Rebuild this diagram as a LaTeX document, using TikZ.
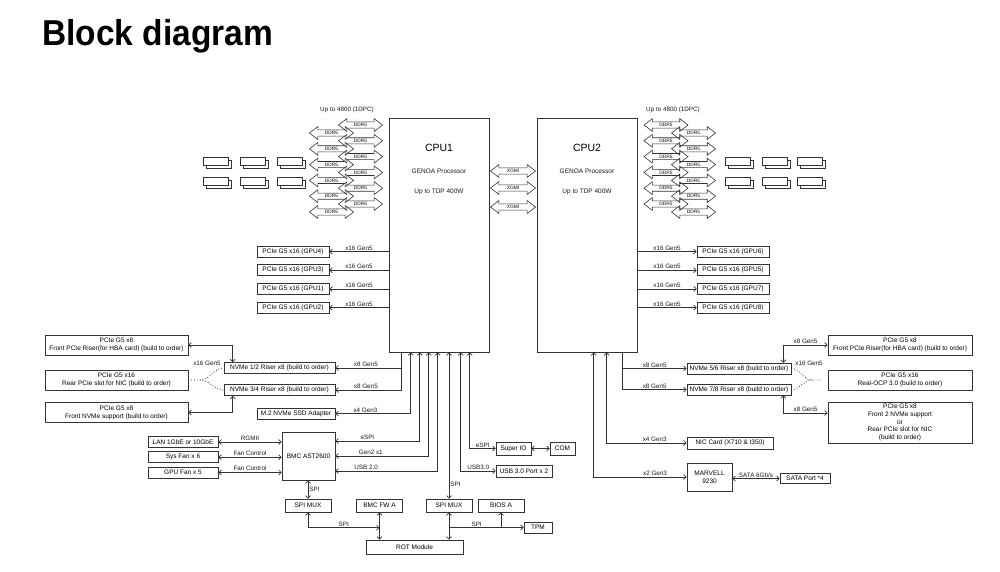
\documentclass[tikz,border=0pt]{standalone}
\usepackage{fontspec}
\usepackage{graphicx}
\setmainfont{Liberation Sans}
\usetikzlibrary{shapes.arrows, arrows.meta}

\begin{document}
\begin{tikzpicture}[
  x=1pt, y=-1pt,
  block/.style={rectangle, draw=black!80, line width=0.7pt, font=\fontsize{6.5}{7.8}\selectfont, align=center, inner sep=1pt, minimum height=11pt},
  cpu/.style={rectangle, draw=black!80, line width=0.7pt, minimum width=100pt, minimum height=234pt},
  bus/.style={double arrow, draw=black!80, line width=0.6pt, font=\fontsize{4.8}{5}\selectfont, inner xsep=0.6pt, inner ysep=1.1pt, minimum height=44pt, minimum width=12pt, double arrow head extend=3.3pt, double arrow tip angle=75},
  lbl/.style={font=\fontsize{6.3}{7.5}\selectfont, inner sep=1pt, black!90},
  arrow/.style={-{Straight Barb[length=2.5pt,width=5pt]}, line width=0.7pt, black!80},
  dlink/.style={{Straight Barb[length=2.5pt,width=5pt]}-{Straight Barb[length=2.5pt,width=5pt]}, line width=0.7pt, black!80},
  dots/.style={dotted, line width=0.8pt, black!80},
  node distance=18.7pt
]
\fill[white] (0,0) rectangle (1000,571);
\useasboundingbox (0,0) rectangle (1000,571);

% Title
\node[anchor=base west, inner sep=0, font=\bfseries\fontsize{36}{40}\selectfont] (title) at (42,45) {\scalebox{0.93}[1]{Block diagram}};

% CPUs
\node[cpu] (cpu1) at (439,235) {};
\node[cpu] (cpu2) at (587,235) {};
\node[font=\fontsize{10.5}{12}\selectfont] (c1name) at (439,148) {CPU1};
\node[lbl, font=\fontsize{6.5}{7.8}\selectfont] (c1proc) at (439,171) {GENOA Processor};
\node[lbl, font=\fontsize{6.5}{7.8}\selectfont] (c1tdp) at (439,192) {Up to TDP 400W};
\node[font=\fontsize{10.5}{12}\selectfont] (c2name) at (587,148) {CPU2};
\node[lbl, font=\fontsize{6.5}{7.8}\selectfont] (c2proc) at (587,171) {GENOA Processor};
\node[lbl, font=\fontsize{6.5}{7.8}\selectfont] (c2tdp) at (587,192) {Up to TDP 400W};

% Memory
\node[lbl] (mem1) at (347,110) {Up to 4800 (1DPC)};
\node[lbl] (mem2) at (673,110) {Up to 4800 (1DPC)};
\foreach \i in {0,...,5} {
  \node[bus] (dla\i) at (360.5, 125+15.8*\i) {DDR5};
  \node[bus] (dlb\i) at (331.5, 133+15.8*\i) {DDR5};
  \node[bus] (dra\i) at (666, 125+15.8*\i) {DDR5};
  \node[bus] (drb\i) at (693.5, 133+15.8*\i) {DDR5};
}
\foreach \x in {203,240,277,725,762,797}
  \foreach \y in {157,177} {
    \draw[black!80, line width=0.7pt, fill=white] (\x+3,\y+3) rectangle ++(25,8);
    \draw[black!80, line width=0.7pt, fill=white] (\x,\y) rectangle ++(25,8);
  }

% XGMI links
\foreach \y [count=\k] in {171,188,207}
  \node[bus, minimum height=45pt] (xg\k) at (513,\y) {XGMI};

% GPU slots
\node[block, minimum width=72pt] (gpu4) at (293,251.5) {PCIe G5 x16 (GPU4)};
\node[block, minimum width=72pt, below of=gpu4] (gpu3) {PCIe G5 x16 (GPU3)};
\node[block, minimum width=72pt, below of=gpu3] (gpu1) {PCIe G5 x16 (GPU1)};
\node[block, minimum width=72pt, below of=gpu1] (gpu2) {PCIe G5 x16 (GPU2)};
\node[block, minimum width=72pt] (gpu6) at (733,251.5) {PCIe G5 x16 (GPU6)};
\node[block, minimum width=72pt, below of=gpu6] (gpu5) {PCIe G5 x16 (GPU5)};
\node[block, minimum width=72pt, below of=gpu5] (gpu7) {PCIe G5 x16 (GPU7)};
\node[block, minimum width=72pt, below of=gpu7] (gpu8) {PCIe G5 x16 (GPU8)};

\foreach \g in {gpu4,gpu3,gpu1,gpu2}
  \draw[arrow] (cpu1.west |- \g.east) -- node[lbl, above] (l\g) {x16 Gen5} (\g.east);
\foreach \g in {gpu6,gpu5,gpu7,gpu8}
  \draw[arrow] (cpu2.east |- \g.west) -- node[lbl, above] (l\g) {x16 Gen5} (\g.west);

% CPU1 storage and risers
\node[block, minimum width=143pt, minimum height=20pt] (frnt) at (116.5,345) {PCIe G5 x8\\Front PCIe Riser(for HBA card) (build to order)};
\node[block, minimum width=143pt, minimum height=20pt] (rear) at (116.5,380) {PCIe G5 x16\\Rear PCIe slot for NIC (build to order)};
\node[block, minimum width=143pt, minimum height=20pt] (fnvme) at (116.5,412.5) {PCIe G5 x8\\Front NVMe support (build to order)};
\node[block, minimum width=111pt] (nv12) at (279.5,368) {NVMe 1/2 Riser x8 (build to order)};
\node[block, minimum width=111pt] (nv34) at (279.5,390) {NVMe 3/4 Riser x8 (build to order)};
\node[block, minimum width=78pt] (m2) at (296,413.5) {M.2 NVMe SSD Adapter};

\draw[arrow] ([xshift=13pt]cpu1.south west) |- node[lbl, above, pos=0.77] (l12) {x8 Gen5} (nv12.east);
\draw[arrow] ([xshift=13pt]cpu1.south west) |- node[lbl, above, pos=0.77] (l34) {x8 Gen5} (nv34.east);
\draw[dlink] ([xshift=22pt]cpu1.south west) |- node[lbl, above, pos=0.8] (lm2) {x4 Gen3} (m2.east);
\draw[dlink] (frnt.east) -| ([xshift=9pt]nv12.north west);
\draw[dlink] (fnvme.east) -| ([xshift=9pt]nv34.south west);
\coordinate (fk1) at (200,380);
\draw[dots] (rear.east) -- (fk1) to[out=0, in=180] (nv12.west);
\draw[dots] (fk1) to[out=0, in=180] (nv34.west);
\node[lbl] (lx1) at (207,363) {x16 Gen5};

% BMC
\node[block, minimum width=70pt] (lan) at (183,442) {LAN 1GbE or 10GbE};
\node[block, minimum width=70pt, below of=lan, node distance=15.2pt] (sysfan) {Sys Fan x 6};
\node[block, minimum width=70pt, below of=sysfan, node distance=15.2pt] (gpufan) {GPU Fan x 5};
\node[block, minimum width=53pt, minimum height=48pt] (bmc) at (308.5,456) {BMC AST2600};

\draw[dlink] (lan.east) -- node[lbl, above] (lrg) {RGMII} (lan.east -| bmc.west);
\draw[dlink] (sysfan.east) -- node[lbl, above] (lf1) {Fan Control} (sysfan.east -| bmc.west);
\draw[dlink] (gpufan.east) -- node[lbl, above] (lf2) {Fan Control} (gpufan.east -| bmc.west);
\draw[dlink] ([xshift=31pt]cpu1.south west) |- node[lbl, above, pos=0.81] (les) {eSPI} ([yshift=15pt]bmc.east);
\draw[dlink] ([xshift=40pt]cpu1.south west) |- node[lbl, above, pos=0.81] (lg2) {Gen2 x1} (bmc.east);
\draw[dlink] ([xshift=49pt]cpu1.south west) |- node[lbl, above, pos=0.85] (lu2) {USB 2.0} ([yshift=-15pt]bmc.east);

% SPI flash and ROT
\node[block, minimum width=46pt, minimum height=13pt] (mux1) at (308,505.5) {SPI MUX};
\node[block, minimum width=46pt, minimum height=13pt] (fw) at (379.5,505.5) {BMC FW A};
\node[block, minimum width=46pt, minimum height=13pt] (mux2) at (449,505.5) {SPI MUX};
\node[block, minimum width=46pt, minimum height=13pt] (bios) at (501,505.5) {BIOS A};
\node[block, minimum width=28pt] (tpm) at (538,527.5) {TPM};
\node[block, minimum width=97pt, minimum height=14pt] (rot) at (414.5,547) {ROT Module};

\draw[dlink] (bmc.south -| mux1.north) -- node[lbl, right] (ls1) {SPI} (mux1.north);
\draw[dlink] (mux1.south) |- node[lbl, above, pos=0.75] (ls2) {SPI} (fw.south |- tpm.west);
\draw[dlink] (fw.south) -- (fw.south |- rot.north);
\draw[dlink] (mux2.south) -- (mux2.south |- rot.north);
\draw[arrow] (mux2.south |- tpm.west) -- node[lbl, above, pos=0.37] (ls3) {SPI} (tpm.west);
\draw[arrow] (bios.south |- tpm.west) -- (bios.south);
\draw[dlink] (cpu1.south -| mux2.north) -- node[lbl, right, pos=0.9] (ls4) {SPI} (mux2.north);

% Super IO and USB
\node[block, minimum width=35pt, minimum height=13pt] (sio) at (513.5,448.5) {Super IO};
\node[block, minimum width=25pt, minimum height=13pt] (com) at (562.5,448.5) {COM};
\node[block, minimum width=56pt, minimum height=12pt] (usb3) at (524,471) {USB 3.0 Port x 2};

\draw[dlink] ([xshift=81pt]cpu1.south west) |- node[lbl, above, pos=0.75] (les2) {eSPI} (sio.west);
\draw[dlink] (sio) -- (com);
\draw[dlink] ([xshift=72pt]cpu1.south west) |- node[lbl, above, pos=0.75] (lu3) {USB3.0} (usb3.west);

% CPU2 risers and I/O
\node[block, minimum width=104pt] (nv56) at (739,368.5) {NVMe 5/6 Riser x8 (build to order)};
\node[block, minimum width=104pt] (nv78) at (739,389.5) {NVMe 7/8 Riser x8 (build to order)};
\node[block, minimum width=144pt, minimum height=20pt] (frnt2) at (900,345) {PCIe G5 x8\\Front PCIe Riser(for HBA card) (build to order)};
\node[block, minimum width=144pt, minimum height=20pt] (ocp) at (900,380) {PCIe G5 x16\\Real-OCP 3.0 (build to order)};
\node[block, minimum width=144pt, minimum height=41pt] (f2nv) at (900,422.5) {PCIe G5 x8\\Front 2 NVMe support\\or\\Rear PCIe slot for NIC\\(build to order)};
\node[block, minimum width=86pt, minimum height=12pt] (nic) at (730,443) {NIC Card (X710 \& I350)};
\node[block, minimum width=45pt, minimum height=28pt] (mrvl) at (709.5,477) {MARVELL\\9230};
\node[block, minimum width=50pt, minimum height=10pt] (sata) at (805,478.5) {SATA Port *4};

\draw[arrow] ([xshift=86pt]cpu2.south west) |- node[lbl, above, pos=0.75] (l56) {x8 Gen5} (nv56.west);
\draw[arrow] ([xshift=86pt]cpu2.south west) |- node[lbl, above, pos=0.75] (l78) {x8 Gen5} (nv78.west);
\draw[dlink] ([xshift=70pt]cpu2.south west) |- node[lbl, above, pos=0.8] (lnic) {x4 Gen3} (nic.west);
\draw[dlink] ([xshift=57pt]cpu2.south west) |- node[lbl, above, pos=0.83] (lmv) {x2 Gen3} (mrvl.west);
\draw[dlink] (mrvl.east |- sata.west) -- node[lbl, above] (lsata) {SATA 6Gb/s} (sata.west);
\draw[dlink] ([xshift=-8pt]nv56.north east) |- node[lbl, above, pos=0.75] (lf56) {x8 Gen5} (frnt2.west);
\draw[dlink] ([xshift=-8pt]nv78.south east) |- node[lbl, above, pos=0.75] (lf78) {x8 Gen5} ([yshift=9.5pt]f2nv.west);
\coordinate (fk2) at (812,380);
\draw[dots] (nv56.east) to[out=0, in=180] (fk2) -- ([xshift=-6pt]ocp.west);
\draw[dots] (nv78.east) to[out=0, in=180] (fk2);
\node[lbl] (lx2) at (809,363) {x16 Gen5};

\end{tikzpicture}
\end{document}
